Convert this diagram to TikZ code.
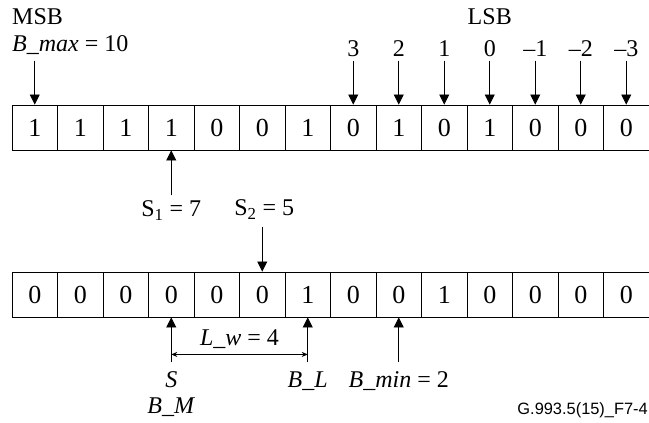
\documentclass[tikz,border=0pt]{standalone}
\usepackage{fontspec}
\setmainfont{Liberation Serif}
\newfontfamily\figsans{Liberation Sans}
\usetikzlibrary{arrows.meta}
\usetikzlibrary{calc}
\usetikzlibrary{positioning}

\tikzset{
  bit/.style={draw,line width=0.9pt,minimum width=45.5pt,minimum height=45pt,inner sep=0pt,font=\fontsize{26}{26}\selectfont},
  lbl/.style={inner sep=0pt,font=\fontsize{24}{24}\selectfont},
  ptr/.style={line width=0.8pt,-{Triangle[length=10pt,width=10pt]}},
  span/.style={line width=0.6pt,{Stealth[length=6pt,width=5pt]}-{Stealth[length=6pt,width=5pt]}}
}

\begin{document}
\begin{tikzpicture}[x=1pt,y=1pt]
\useasboundingbox (0,0) rectangle (649,423);
% the two registers
\foreach \v [count=\i] in {1,1,1,1,0,0,1,0,1,0,1,0,0,0}
  \node[bit] (t\i) at (12+\i*45.5-22.75,295.5) {\v};
\foreach \v [count=\i] in {0,0,0,0,0,0,1,0,0,1,0,0,0,0}
  \node[bit] (b\i) at (12+\i*45.5-22.75,128.5) {\v};

% top pointers
\node[lbl,anchor=base west] (msb) at (12,398) {MSB};
\node[lbl,anchor=base west] (bmax) at (12,371) {\textit{B\_max} = 10};
\coordinate[above=44pt of t1] (tip1);
\draw[ptr] (tip1) -- (t1);
\foreach \p/\n in {8/3,9/2,10/1,11/0,12/{\textendash1},13/{\textendash2},14/{\textendash3}} {
  \node[lbl,above=48pt of t\p,anchor=base] (idx\p) {\n};
  \coordinate[above=44pt of t\p] (tip\p);
  \draw[ptr] (tip\p) -- (t\p);
}
\node[lbl,anchor=base] (lsb) at (idx11.center |- msb.base) {LSB};

% S1 and S2
\coordinate[below=45pt of t4] (sone);
\draw[ptr] (sone) -- (t4);
\node[lbl,anchor=base] (sonelbl) at ($(t4.south)+(0,-66)$) {S\textsubscript{1} = 7};
\coordinate[above=45pt of b6] (stwo);
\draw[ptr] (stwo) -- (b6);
\node[lbl,anchor=base] (stwolbl) at ($(b6.north)+(2,56)$) {S\textsubscript{2} = 5};

% bottom pointers
\coordinate[below=45pt of b4] (sfoot);
\coordinate[below=45pt of b7] (lfoot);
\coordinate[below=45pt of b9] (mfoot);
\draw[ptr] (sfoot) -- (b4);
\draw[ptr] (lfoot) -- (b7);
\draw[ptr] (mfoot) -- (b9);
\coordinate[below=37pt of b4] (lwa);
\coordinate[below=37pt of b7] (lwb);
\draw[span] (lwa) -- (lwb);
\node[lbl,anchor=base] (lw) at ($(lwa)!0.5!(lwb)+(0,9)$) {\textit{L\_w} = 4};
\node[lbl,anchor=base] (s) at ($(b4.south)+(0,-70)$) {\textit{S}};
\node[lbl,anchor=base] (bm) at ($(b4.south)+(0,-96)$) {\textit{B\_M}};
\node[lbl,anchor=base] (bl) at ($(b7.south)+(0,-70)$) {\textit{B\_L}};
\node[lbl,anchor=base] (bmin) at ($(b9.south)+(0,-70)$) {\textit{B\_min} = 2};

\node[inner sep=0pt,anchor=base east,font=\figsans\fontsize{16.4}{16.4}\selectfont] (ref) at (648,8) {G.993.5(15)\_F7-4};
\end{tikzpicture}
\end{document}
